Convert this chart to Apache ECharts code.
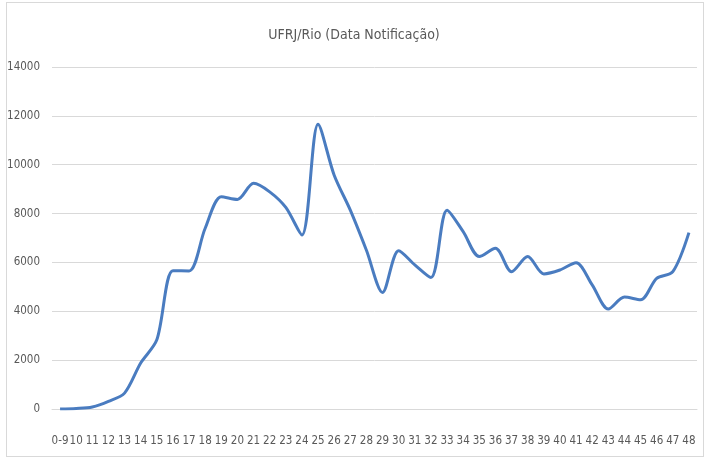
<!DOCTYPE html>
<html>
<head>
<meta charset="utf-8">
<script src="https://cdn.jsdelivr.net/npm/echarts@6/dist/echarts.min.js"></script>
<style>
html,body{margin:0;padding:0;background:#fff;}
#frame{position:absolute;left:6px;top:2px;width:698px;height:455px;border:1px solid #d9d9d9;box-sizing:border-box;}
#chart{position:absolute;left:0;top:0;width:708px;height:462px;}
</style>
</head>
<body>
<div id="frame"></div>
<div id="chart"></div>
<script>
const titleText = "UFRJ/Rio (Data Notificação)";
const categories = ["0-9","10","11","12","13","14","15","16","17","18","19","20","21","22","23","24","25","26","27","28","29","30","31","32","33","34","35","36","37","38","39","40","41","42","43","44","45","46","47","48"];
const values = [0,20,80,310,650,1880,2830,5660,5650,7400,8690,8580,9240,8890,8250,7120,11660,9570,8140,6500,4770,6480,5900,5380,8140,7260,6240,6580,5620,6240,5530,5690,5990,5080,4090,4580,4470,5350,5620,7220];
const yMin = 0, yMax = 14000, yStep = 2000;

const font = '"DejaVu Sans Condensed", "Liberation Sans Narrow", sans-serif';
const chart = echarts.init(document.getElementById('chart'), null, {renderer:'canvas'});
chart.setOption({
  backgroundColor: 'transparent',
  animation: false,
  title: {
    text: titleText,
    left: 'center',
    top: 23,
    textStyle: {fontFamily: font, fontSize: 14, fontWeight: 'normal', color: '#595959'}
  },
  grid: {left: 52, right: 11, top: 67, bottom: 53, containLabel: false},
  xAxis: {
    type: 'category',
    data: categories,
    boundaryGap: true,
    axisLine: {show: true, lineStyle: {color: '#d9d9d9', width: 1}},
    axisTick: {show: false},
    axisLabel: {interval: 0, fontFamily: font, fontSize: 11.5, color: '#595959', margin: 26}
  },
  yAxis: {
    type: 'value',
    min: yMin, max: yMax, interval: yStep,
    axisLine: {show: false},
    axisTick: {show: false},
    splitLine: {lineStyle: {color: '#d9d9d9', width: 1}},
    axisLabel: {fontFamily: font, fontSize: 11.5, color: '#595959', margin: 12, formatter: function(v){ return String(v); }}
  },
  series: [{
    type: 'line',
    data: values,
    smooth: 0.3,
    symbol: 'none',
    lineStyle: {color: '#4a7cc0', width: 3}
  }]
});
</script>
</body>
</html>
